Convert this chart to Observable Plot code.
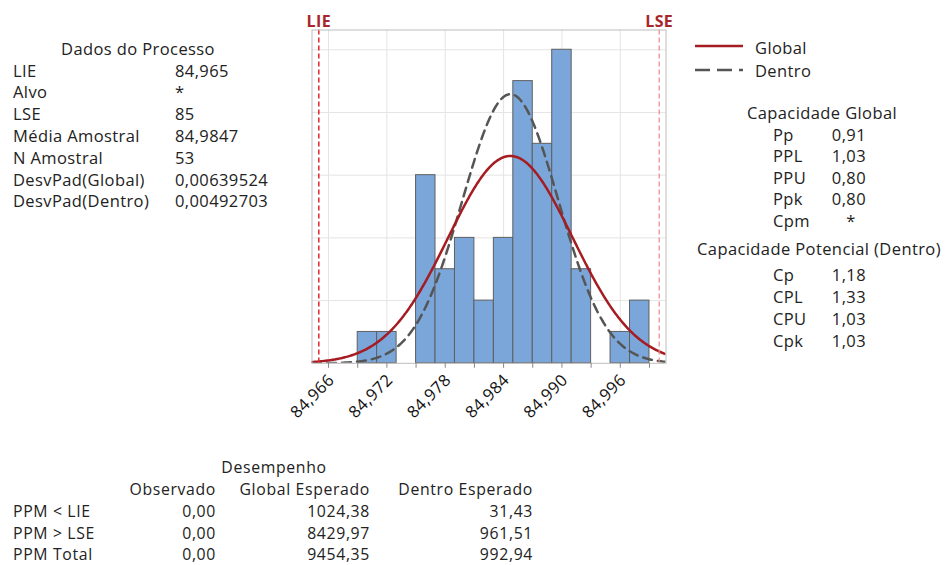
<!DOCTYPE html>
<html>
<head>
<meta charset="utf-8">
<script src="https://cdn.jsdelivr.net/npm/d3@7"></script>
<script src="https://cdn.jsdelivr.net/npm/@observablehq/plot@0.6"></script>
<style>
  html, body { margin: 0; padding: 0; background: #fff; }
  #wrap { position: relative; width: 946px; height: 565px; overflow: hidden;
          font-family: "Open Sans", sans-serif; font-size: 16.5px; letter-spacing: 0.4px; color: #222; }
  #wrap svg { position: absolute; left: 0; top: 0; }
  .t { position: absolute; white-space: nowrap; line-height: 16px; height: 16px; }
  .t.small { font-size: 15.8px; letter-spacing: 0.65px; }
</style>
</head>
<body>
<div id="wrap"></div>
<script>
// ---------- data ----------
const binStarts = [84.969, 84.971, 84.973, 84.975, 84.977, 84.979, 84.981, 84.983,
                   84.985, 84.987, 84.989, 84.991, 84.993, 84.995, 84.997];
const binCounts = [1, 1, 0, 6, 3, 4, 2, 4, 9, 7, 10, 3, 0, 1, 2];
const binWidth = 0.002;

const specNames = ["LIE", "LSE"];
const specValues = [84.965, 85];

const fitNames = ["Global", "Dentro"];
const fitMeans = [84.9847, 84.9847];
const fitSDs = [0.00639524, 0.00492703];
const sampleN = 53;

const xDomain = [84.9643, 85.0007];
const yDomain = [0, 10.63];
const majorTicks = [84.966, 84.972, 84.978, 84.984, 84.990, 84.996];
const allTicks = [84.966, 84.969, 84.972, 84.975, 84.978, 84.981, 84.984, 84.987,
                  84.990, 84.993, 84.996, 84.999];
const gridYTicks = [2, 4, 6, 8, 10];

const processTitle = "Dados do Processo";
const processLabels = ["LIE", "Alvo", "LSE", "Média Amostral", "N Amostral",
                       "DesvPad(Global)", "DesvPad(Dentro)"];
const processValues = ["84,965", "*", "85", "84,9847", "53", "0,00639524", "0,00492703"];

const globalTitle = "Capacidade Global";
const globalLabels = ["Pp", "PPL", "PPU", "Ppk", "Cpm"];
const globalValues = ["0,91", "1,03", "0,80", "0,80", "*"];

const withinTitle = "Capacidade Potencial (Dentro)";
const withinLabels = ["Cp", "CPL", "CPU", "Cpk"];
const withinValues = ["1,18", "1,33", "1,03", "1,03"];

const perfTitle = "Desempenho";
const perfHeaders = ["Observado", "Global Esperado", "Dentro Esperado"];
const perfRows = ["PPM < LIE", "PPM > LSE", "PPM Total"];
const perfObserved = ["0,00", "0,00", "0,00"];
const perfGlobal = ["1024,38", "8429,97", "9454,35"];
const perfWithin = ["31,43", "961,51", "992,94"];

// ---------- derived tables ----------
const bins = binStarts.map((s, i) => ({x1: s, x2: s + binWidth, count: binCounts[i]}));

function fitCurve(k) {
  const n = 400, pts = [];
  for (let i = 0; i <= n; i++) {
    const x = xDomain[0] + (xDomain[1] - xDomain[0]) * i / n;
    const z = (x - fitMeans[k]) / fitSDs[k];
    const dens = Math.exp(-0.5 * z * z) / (fitSDs[k] * Math.sqrt(2 * Math.PI));
    pts.push({x, y: dens * sampleN * binWidth});
  }
  return pts;
}
const globalCurve = fitCurve(0);
const withinCurve = fitCurve(1);

const fmt = d => d.toFixed(3).replace(".", ",");

// ---------- plot ----------
const W = 946, H = 565;
const chart = Plot.plot({
  width: W, height: H,
  marginLeft: 311.5, marginRight: W - 665.5, marginTop: 29.5, marginBottom: H - 362.8,
  style: {fontFamily: "Open Sans, sans-serif", background: "transparent", color: "#222"},
  x: {domain: xDomain},
  y: {domain: yDomain, axis: null},
  marks: [
    Plot.gridX(majorTicks, {stroke: "#e4e4e4", strokeOpacity: 1}),
    Plot.gridY(gridYTicks, {stroke: "#e4e4e4", strokeOpacity: 1}),
    Plot.rectY(bins, {x1: "x1", x2: "x2", y: "count", fill: "#7ba6da", stroke: "#5f5f5f", strokeWidth: 1}),
    Plot.line(withinCurve, {x: "x", y: "y", stroke: "#555", strokeWidth: 2.5, strokeDasharray: "9,6", clip: true}),
    Plot.line(globalCurve, {x: "x", y: "y", stroke: "#a51d22", strokeWidth: 2.5, clip: true}),
    Plot.ruleX([specValues[0]], {stroke: "#e0262a", strokeWidth: 1.5, strokeDasharray: "5,3"}),
    Plot.ruleX([specValues[1]], {stroke: "#ef8686", strokeWidth: 1.2, strokeDasharray: "5,3"}),
    Plot.text(specValues, {x: d => d, text: (d, i) => specNames[i], frameAnchor: "top", dy: -14,
      fill: "#a8262b", fontWeight: "bold", fontSize: 16}),
    Plot.frame({stroke: "#bdbdbd"}),
    Plot.axisX(allTicks, {tickSize: 5, tickFormat: () => "", stroke: "#888"}),
    Plot.axisX(majorTicks, {tickSize: 0, tickRotate: -45, tickPadding: 14, dx: 3, tickFormat: fmt,
      fontSize: 16.5, fill: "#111", label: null})
  ]
});
const wrap = document.getElementById("wrap");
wrap.appendChild(chart);

// ---------- text panels ----------
function put(x, yc, txt, anchor, cls) {
  const el = document.createElement("div");
  el.className = "t" + (cls ? " " + cls : "");
  el.textContent = txt;
  el.style.top = (yc - 8) + "px";
  if (anchor === "end") { el.style.right = (W - x) + "px"; }
  else if (anchor === "middle") { el.style.left = x + "px"; el.style.transform = "translateX(-50%)"; }
  else { el.style.left = x + "px"; }
  wrap.appendChild(el);
  return el;
}

// Process data
put(138, 49, processTitle, "middle");
const procY = [71, 92, 114, 136, 158, 180, 201];
processLabels.forEach((t, i) => put(13, procY[i], t));
processValues.forEach((t, i) => put(175, procY[i], t));

// Legend
function legendLine(y, color, dash) {
  const svg = document.createElementNS("http://www.w3.org/2000/svg", "svg");
  svg.setAttribute("width", 60); svg.setAttribute("height", 10);
  svg.style.position = "absolute"; svg.style.left = "694px"; svg.style.top = (y - 5) + "px";
  const l = document.createElementNS("http://www.w3.org/2000/svg", "line");
  l.setAttribute("x1", 1); l.setAttribute("x2", 49); l.setAttribute("y1", 5); l.setAttribute("y2", 5);
  l.setAttribute("stroke", color); l.setAttribute("stroke-width", 2.5);
  if (dash) l.setAttribute("stroke-dasharray", dash);
  svg.appendChild(l);
  wrap.appendChild(svg);
}
legendLine(46, "#a51d22", null);
legendLine(70, "#555", "15,7");
put(755, 48, fitNames[0]);
put(755, 71, fitNames[1]);

// Capability
put(822, 113, globalTitle, "middle");
const gY = [135, 156, 178, 199, 221];
globalLabels.forEach((t, i) => put(773, gY[i], t));
globalValues.forEach((t, i) => t === "*" ? put(851, gY[i], t, "middle") : put(866, gY[i], t, "end"));

put(819, 249, withinTitle, "middle");
const wY = [275, 297, 319, 341];
withinLabels.forEach((t, i) => put(773, wY[i], t));
withinValues.forEach((t, i) => put(866, wY[i], t, "end"));

// Performance
put(274, 467, perfTitle, "middle", "small");
const colRight = [216, 370, 533];
perfHeaders.forEach((t, i) => put(colRight[i], 489, t, "end", "small"));
const pY = [511, 532.5, 554];
perfRows.forEach((t, i) => put(13, pY[i], t, null, "small"));
perfObserved.forEach((t, i) => put(colRight[0], pY[i], t, "end", "small"));
perfGlobal.forEach((t, i) => put(colRight[1], pY[i], t, "end", "small"));
perfWithin.forEach((t, i) => put(colRight[2], pY[i], t, "end", "small"));
</script>
</body>
</html>
